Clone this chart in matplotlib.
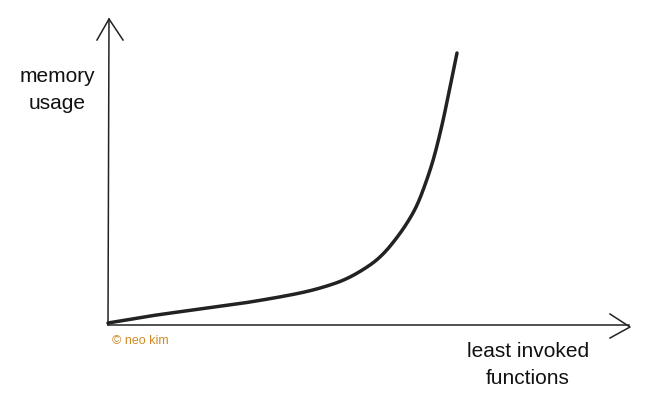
import matplotlib.pyplot as plt
import numpy as np

# curve (offsets from the axis origin)
invocations = [0, 42, 92, 142, 192, 222, 242, 262, 275, 287, 299, 309, 318, 326, 334, 341, 349]
memory = [2, 9, 16, 23, 32, 40, 48, 60, 71, 85, 102, 120, 143, 168, 200, 233, 272]

x_label = "least invoked\nfunctions"
y_label = "memory\nusage"
credit = "\u00a9 neo kim"

ink = "#222222"


def catmull_rom(xp, yp, n=30):
    # smooth curve that passes through every read point
    p = np.column_stack([xp, yp]).astype(float)
    p = np.vstack([2 * p[0] - p[1], p, 2 * p[-1] - p[-2]])
    out = []
    for i in range(1, len(p) - 2):
        p0, p1, p2, p3 = p[i - 1], p[i], p[i + 1], p[i + 2]
        s = np.linspace(0, 1, n, endpoint=False)[:, None]
        out.append(0.5 * ((2 * p1) + (-p0 + p2) * s
                          + (2 * p0 - 5 * p1 + 4 * p2 - p3) * s ** 2
                          + (-p0 + 3 * p1 - 3 * p2 + p3) * s ** 3))
    out.append(p[-2][None, :])
    c = np.vstack(out)
    return c[:, 0], c[:, 1]


fig = plt.figure(figsize=(6.5, 4.13), dpi=100)
ax = fig.add_axes([0, 0, 1, 1])
ax.set_xlim(-108, 542)
ax.set_ylim(-88, 325)
ax.axis("off")

# hand drawn axes with open arrow heads
ax.plot([0, 1], [0, 306], color=ink, lw=1.1)
ax.plot([-11, 1, 15], [285, 306, 285], color=ink, lw=1.1, solid_joinstyle="round")
ax.plot([0, 521], [0, 0], color=ink, lw=1.1)
ax.plot([502, 522, 502], [11, -2, -13], color=ink, lw=1.1, solid_joinstyle="round")

xs, ys = catmull_rom(invocations, memory)
ax.plot(xs, ys, color=ink, lw=2.5, solid_capstyle="round")

ax.text(-51, 235, y_label, ha="center", va="center", fontsize=15,
        family="Liberation Sans", color="#111111", linespacing=1.5,
        multialignment="center")
ax.text(420, -40, x_label, ha="center", va="center", fontsize=15,
        family="Liberation Sans", color="#111111", linespacing=1.5,
        multialignment="center")
ax.text(4, -16, credit, ha="left", va="center", fontsize=9,
        family="Liberation Sans", color="#cf8a28")

fig.savefig("out.png", dpi=100)
